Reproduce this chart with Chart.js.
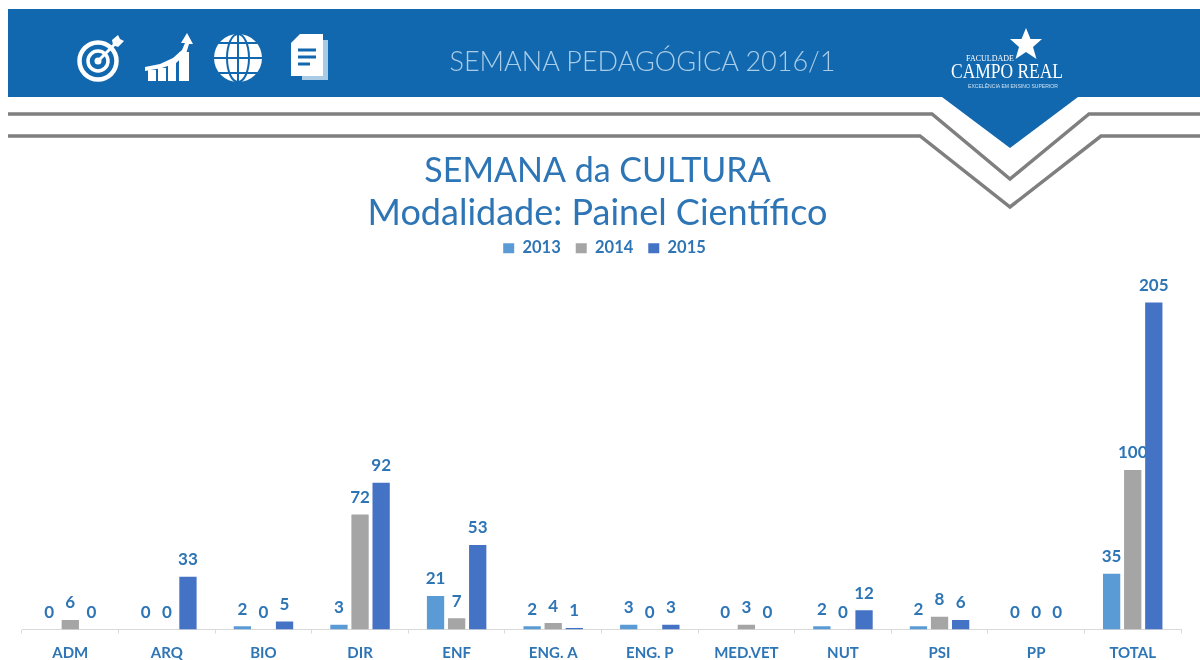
<!DOCTYPE html>
<html><head><meta charset="utf-8">
<style>
html,body{margin:0;padding:0;background:#fff;width:1200px;height:660px;overflow:hidden}
#deco{position:absolute;left:0;top:0;filter:blur(.5px)}
#wrap{position:absolute;left:0;top:0;width:1200px;height:660px;filter:blur(.35px)}
</style>
<script src="https://cdn.jsdelivr.net/npm/chart.js@4"></script>
</head><body>
<svg id="deco" width="1200" height="660" viewBox="0 0 1200 660">
  <polygon points="8,9 1200,9 1200,97 1078,97 1010,148 942,97 8,97" fill="#1268ae"/>
  <polyline points="8,114 932,114 1010,179 1089,114 1200,114" fill="none" stroke="#7f7f7f" stroke-width="3.5"/>
  <polyline points="8,136 920,136 1010,207 1101,136 1200,136" fill="none" stroke="#7f7f7f" stroke-width="3.5"/>
  <!-- target -->
  <g fill="none" stroke="#fff">
    <circle cx="98" cy="61" r="18.5" stroke-width="4.5"/>
    <circle cx="98" cy="61" r="10" stroke-width="3.5"/>
    <path d="M98 61 L117 42" stroke-width="3"/>
  </g>
  <circle cx="98" cy="61" r="3.5" fill="#fff"/>
  <polygon points="112,40 118,35 120,39 124,41 118,47 113,45" fill="#fff"/>
  <!-- growth -->
  <g fill="#fff">
    <rect x="148" y="70" width="8" height="11"/>
    <rect x="158" y="68" width="8" height="13"/>
    <rect x="168" y="62" width="8" height="19"/>
    <rect x="179" y="52" width="10" height="29"/>
    <polygon points="187,33 193,44 189,44 186,54 176,63 162,68 145,71 145,67 160,64 173,58 182,50 185,43 181,43"/>
  </g>
  <!-- globe -->
  <circle cx="238" cy="58" r="24" fill="#fff"/>
  <g fill="none" stroke="#1268ae" stroke-width="2">
    <ellipse cx="238" cy="58" rx="11" ry="24"/>
    <path d="M238 34V82M214 58H262M219 43H257M219 73H257"/>
  </g>
  <!-- document -->
  <path d="M302 40 H328 V80 H302 Z" fill="#a9cbe6"/>
  <path d="M300 34 H323 V76 H291 V43 Z" fill="#fff"/>
  <path d="M298 50H316M298 57H316M298 64H310" stroke="#1268ae" stroke-width="3"/>
  <text x="642.5" y="71" text-anchor="middle" font-family="Lato, 'Open Sans', sans-serif" font-weight="300" font-size="27" fill="#a9cde8">SEMANA PEDAGÓGICA 2016/1</text>
  <polygon points="1026,28 1030.5,39 1042,39 1033,47 1036.5,59 1026,52 1015.5,59 1019,47 1010,39 1021.5,39" fill="#fff"/>
  <text x="990" y="61" text-anchor="middle" font-family="'Liberation Serif',serif" font-size="8" fill="#fff">FACULDADE</text>
  <text x="1007" y="78" text-anchor="middle" font-family="'Liberation Serif',serif" font-size="21" textLength="112" lengthAdjust="spacingAndGlyphs" fill="#fff">CAMPO REAL</text>
  <text x="1013" y="88" text-anchor="middle" font-family="'Liberation Sans',sans-serif" font-size="5" textLength="90" lengthAdjust="spacingAndGlyphs" fill="#cfe2f2">EXCELÊNCIA EM ENSINO SUPERIOR</text>
</svg>
<div id="wrap"><canvas id="c" width="1200" height="660"></canvas></div>
<script>
const categories = ["ADM","ARQ","BIO","DIR","ENF","ENG. A","ENG. P","MED.VET","NUT","PSI","PP","TOTAL"];
const seriesNames = ["2013","2014","2015"];
const values2013 = [0,0,2,3,21,2,3,0,2,2,0,35];
const values2014 = [6,0,0,72,7,4,0,3,0,8,0,100];
const values2015 = [0,33,5,92,53,1,3,0,12,6,0,205];
const colors = ["#5b9bd5","#a5a5a5","#4472c4"];
const textColor = "#2e75b6";
const fontFamily = "Lato, 'Open Sans', sans-serif";

const barLabels = {
  id:"barLabels",
  beforeDatasetsDraw(chart){
    const ctx = chart.ctx;
    ctx.save();
    ctx.font = "bold 17px " + fontFamily;
    ctx.fillStyle = textColor;
    ctx.textAlign = "center";
    ctx.textBaseline = "middle";
    chart.data.datasets.forEach((ds,i)=>{
      chart.getDatasetMeta(i).data.forEach((bar,j)=>{
        ctx.fillText(String(ds.data[j]), bar.x, bar.y - 17);
      });
    });
    ctx.restore();
  }
};
const shiftBlocks = {
  id:"shiftBlocks",
  afterLayout(chart){
    chart.boxes.forEach(b=>{
      if (b === chart.legend || b.position !== "top") return;
      b.left -= 4; b.right -= 4;
    });
    chart.legend.left += 3; chart.legend.right += 3;
    chart.legend.top -= 10.5; chart.legend.bottom -= 10.5;
  }
};
new Chart(document.getElementById("c"),{
  type:"bar",
  data:{
    labels:categories,
    datasets:[
      {label:seriesNames[0],data:values2013,backgroundColor:colors[0]},
      {label:seriesNames[1],data:values2014,backgroundColor:colors[1]},
      {label:seriesNames[2],data:values2015,backgroundColor:colors[2]}
    ]
  },
  options:{
    responsive:false,animation:false,
    layout:{padding:{left:22,right:19,top:149,bottom:-12.5}},
    datasets:{bar:{categoryPercentage:0.655,barPercentage:0.82}},
    plugins:{
      tooltip:{enabled:false},
      title:{display:true,text:"SEMANA da CULTURA",
        color:textColor,font:{family:fontFamily,size:34,weight:"normal",lineHeight:1.27},padding:{top:0,bottom:0}},
      subtitle:{display:true,text:"Modalidade: Painel Científico",
        color:textColor,font:{family:fontFamily,size:36,weight:"normal",lineHeight:1.2},padding:{top:0,bottom:0}},
      legend:{display:true,position:"top",
        labels:{boxWidth:11,boxHeight:10,padding:15,color:textColor,font:{family:fontFamily,size:16.5,weight:"bold"}}}
    },
    scales:{
      x:{grid:{display:true,drawOnChartArea:false,offset:true,tickLength:4,color:"#d9d9d9"},
         border:{display:true,color:"#d9d9d9"},
         ticks:{color:textColor,font:{family:fontFamily,size:15,weight:"bold"},padding:10.5,maxRotation:0,autoSkip:false}},
      y:{display:false,min:0,max:221}
    }
  },
  plugins:[barLabels,shiftBlocks]
});
</script>
</body></html>
